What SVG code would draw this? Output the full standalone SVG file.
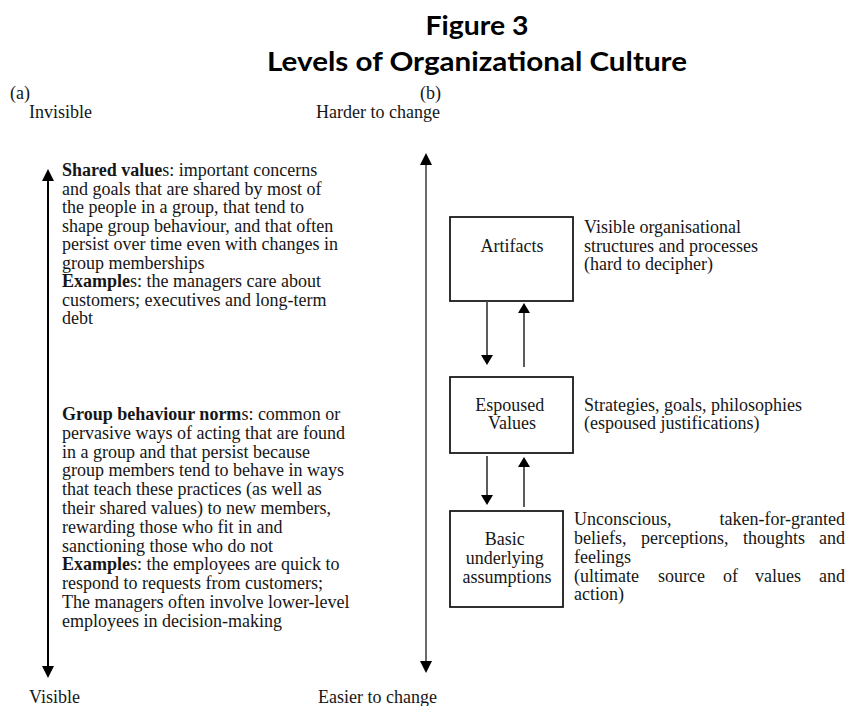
<svg xmlns="http://www.w3.org/2000/svg" width="849" height="706" viewBox="0 0 849 706">
  <style>
    .title { font-family: Lato, "Open Sans", "Liberation Sans", sans-serif; font-weight: 700; font-size: 27px; fill: #000; }
    .t { font-family: "Liberation Serif", "Times New Roman", serif; font-size: 18px; fill: #161616; }
    .b { font-weight: 700; }
    .mid { text-anchor: middle; }
    .end { text-anchor: end; }
    .box { fill: #fff; stroke: #1a1a1a; stroke-width: 1.8; }
    .axis-a { stroke: #000; stroke-width: 2; fill: none; }
    .axis-b { stroke: #6a6a6a; stroke-width: 2; fill: none; }
    .link { stroke: #4a4a4a; stroke-width: 1.8; fill: none; }
  </style>
  <defs>
    <marker id="headBig" markerUnits="userSpaceOnUse" markerWidth="12" markerHeight="12" refX="0" refY="6" orient="auto-start-reverse">
      <path d="M0,0 L12,6 L0,12 z" fill="#000"/>
    </marker>
    <marker id="headSmall" markerUnits="userSpaceOnUse" markerWidth="11" markerHeight="12" refX="0" refY="6" orient="auto">
      <path d="M0,0 L10,6 L0,12 z" fill="#000"/>
    </marker>
  </defs>

  <rect width="849" height="706" fill="#fff"/>

  <!-- heading -->
  <g id="heading">
    <text class="title mid" x="477" y="35" textLength="103" lengthAdjust="spacingAndGlyphs">Figure 3</text>
    <text class="title mid" x="477" y="71" textLength="420" lengthAdjust="spacingAndGlyphs">Levels of Organizational Culture</text>
  </g>

  <!-- panel (a): visibility scale -->
  <g id="panel-a-labels">
    <text class="t" x="10" y="99">(a)</text>
    <text class="t" x="29" y="118">Invisible</text>
    <text class="t" x="29" y="703">Visible</text>
  </g>

  <g id="shared-values">
    <text class="t">
      <tspan x="62" y="176"><tspan class="b">Shared value</tspan>s: important concerns</tspan>
      <tspan x="62" y="194.5">and goals that are shared by most of</tspan>
      <tspan x="62" y="213">the people in a group, that tend to</tspan>
      <tspan x="62" y="231.5">shape group behaviour, and that often</tspan>
      <tspan x="62" y="250">persist over time even with changes in</tspan>
      <tspan x="62" y="268.5">group memberships</tspan>
      <tspan x="62" y="287"><tspan class="b">Example</tspan>s: the managers care about</tspan>
      <tspan x="62" y="305.5">customers; executives and long-term</tspan>
      <tspan x="62" y="324">debt</tspan>
    </text>
  </g>

  <g id="group-norms">
    <text class="t">
      <tspan x="62" y="420"><tspan class="b">Group behaviour norm</tspan>s: common or</tspan>
      <tspan x="62" y="438.8">pervasive ways of acting that are found</tspan>
      <tspan x="62" y="457.6">in a group and that persist because</tspan>
      <tspan x="62" y="476.4">group members tend to behave in ways</tspan>
      <tspan x="62" y="495.2">that teach these practices (as well as</tspan>
      <tspan x="62" y="514">their shared values) to new members,</tspan>
      <tspan x="62" y="532.8">rewarding those who fit in and</tspan>
      <tspan x="62" y="551.6">sanctioning those who do not</tspan>
      <tspan x="62" y="570.4"><tspan class="b">Example</tspan>s: the employees are quick to</tspan>
      <tspan x="62" y="589.2">respond to requests from customers;</tspan>
      <tspan x="62" y="608">The managers often involve lower-level</tspan>
      <tspan x="62" y="626.8">employees in decision-making</tspan>
    </text>
  </g>

  <!-- panel (b): ease of change -->
  <g id="panel-b-labels">
    <text class="t" x="420" y="99">(b)</text>
    <text class="t end" x="440" y="118">Harder to change</text>
    <text class="t end" x="437" y="703">Easier to change</text>
  </g>

  <g id="artifacts">
    <rect class="box" x="450" y="217" width="123" height="84"/>
    <text class="t mid" x="512" y="252">Artifacts</text>
    <text class="t">
      <tspan x="584" y="233">Visible organisational</tspan>
      <tspan x="584" y="251.5">structures and processes</tspan>
      <tspan x="584" y="270">(hard to decipher)</tspan>
    </text>
  </g>

  <g id="espoused-values">
    <rect class="box" x="450" y="377" width="123" height="76"/>
    <text class="t mid">
      <tspan x="512" y="411">Espoused</tspan>
      <tspan x="512" y="429">Values</tspan>
    </text>
    <text class="t">
      <tspan x="584" y="411">Strategies, goals, philosophies</tspan>
      <tspan x="584" y="429">(espoused justifications)</tspan>
    </text>
  </g>

  <g id="basic-assumptions">
    <rect class="box" x="450" y="511" width="113" height="96"/>
    <text class="t mid">
      <tspan x="507" y="545">Basic</tspan>
      <tspan x="507" y="564">underlying</tspan>
      <tspan x="507" y="583">assumptions</tspan>
    </text>
    <!-- justified description: left-flush words, then right-flush line ends -->
    <text class="t">
      <tspan x="574" y="525">Unconscious,</tspan>
      <tspan x="574" y="544">beliefs,</tspan>
      <tspan x="641" y="544">perceptions,</tspan>
      <tspan x="743" y="544">thoughts</tspan>
      <tspan x="574" y="563">feelings</tspan>
      <tspan x="574" y="582">(ultimate</tspan>
      <tspan x="658" y="582">source</tspan>
      <tspan x="723" y="582">of</tspan>
      <tspan x="755" y="582">values</tspan>
      <tspan x="574" y="600">action)</tspan>
    </text>
    <text class="t end" x="845" y="525">taken-for-granted</text>
    <text class="t end" x="845" y="544">and</text>
    <text class="t end" x="845" y="582">and</text>
  </g>

  <!-- connectors -->
  <g id="connectors">
    <!-- visibility axis, two-headed -->
    <line class="axis-a" x1="48" y1="181" x2="48" y2="666" marker-start="url(#headBig)" marker-end="url(#headBig)"/>
    <!-- change axis, two-headed -->
    <line class="axis-b" x1="426" y1="165" x2="426" y2="661" marker-start="url(#headBig)" marker-end="url(#headBig)"/>
    <!-- artifacts <-> espoused values -->
    <line class="link" x1="487" y1="301" x2="487" y2="355" marker-end="url(#headSmall)"/>
    <line class="link" x1="524" y1="367" x2="524" y2="313" marker-end="url(#headSmall)"/>
    <!-- espoused values <-> basic assumptions -->
    <line class="link" x1="487" y1="456" x2="487" y2="495" marker-end="url(#headSmall)"/>
    <line class="link" x1="524" y1="507" x2="524" y2="467" marker-end="url(#headSmall)"/>
  </g>
</svg>
